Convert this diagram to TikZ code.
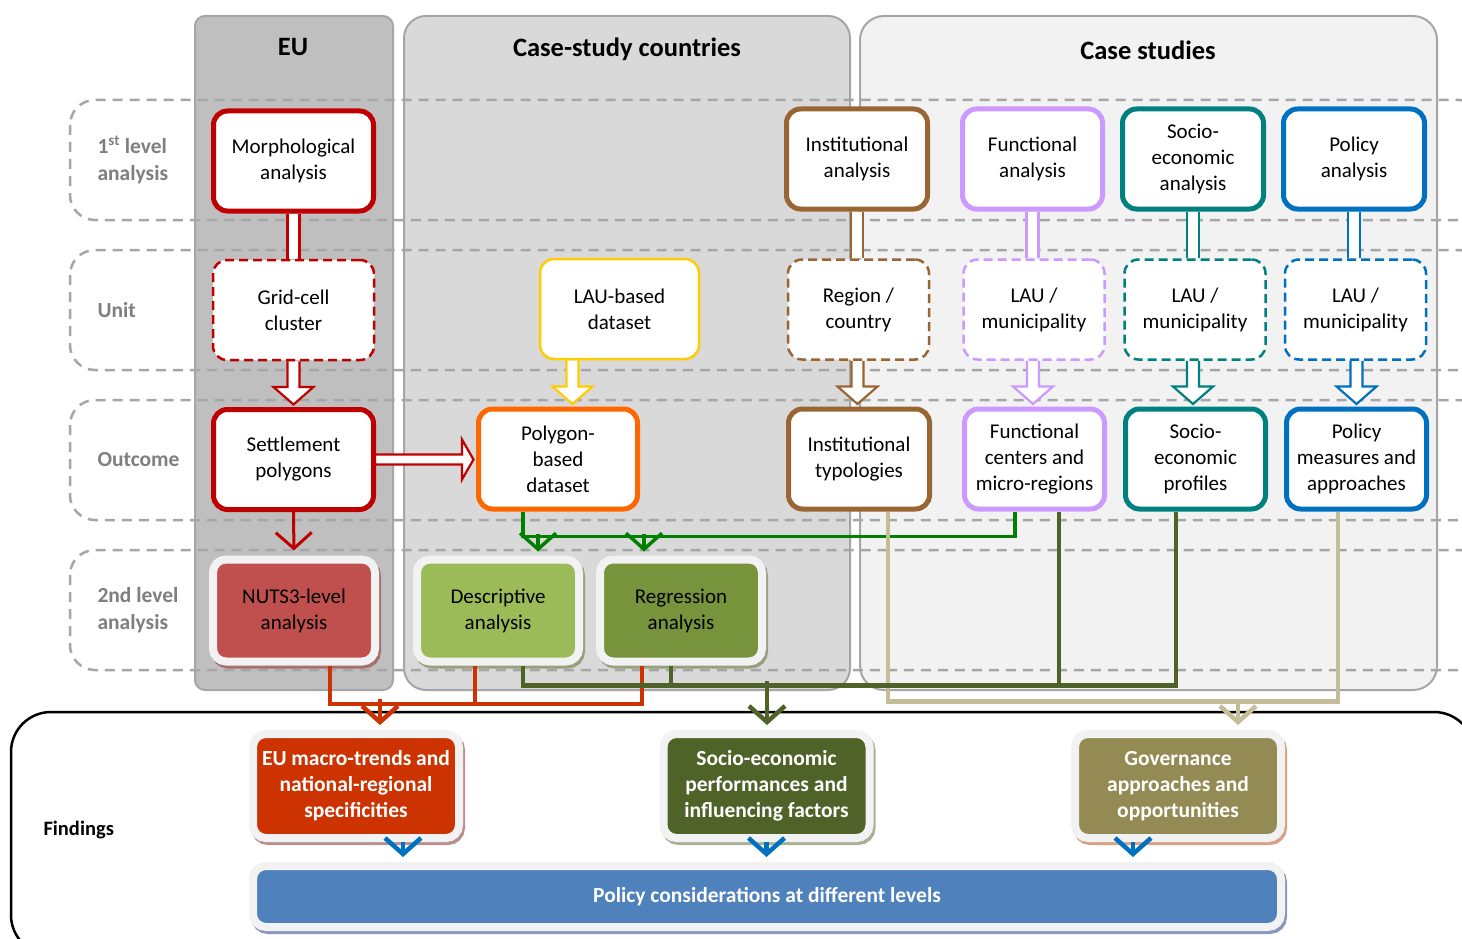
\documentclass[tikz,border=0pt]{standalone}
\usepackage{fontspec}
\setmainfont{Carlito}
\usetikzlibrary{arrows.meta,calc}
\pgfdeclarelayer{bg}
\pgfdeclarelayer{lines}
\pgfsetlayers{bg,lines,main}
\definecolor{cred}{HTML}{C00000}
\definecolor{corange}{HTML}{FF6600}
\definecolor{cyellow}{HTML}{FFCC00}
\definecolor{cbrown}{HTML}{996633}
\definecolor{cviolet}{HTML}{CC99FF}
\definecolor{cteal}{HTML}{008080}
\definecolor{cblue}{HTML}{0070C0}
\definecolor{fnuts}{HTML}{C0504D}
\definecolor{fdesc}{HTML}{9BBB59}
\definecolor{fregr}{HTML}{77933C}
\definecolor{feu}{HTML}{CC3300}
\definecolor{fsoc}{HTML}{4F6228}
\definecolor{fgov}{HTML}{948A54}
\definecolor{fpol}{HTML}{4F81BD}
\definecolor{lgreen}{HTML}{008000}
\definecolor{lkhaki}{HTML}{C4BD97}
\definecolor{peu}{HTML}{BFBFBF}
\definecolor{pcsc}{HTML}{D9D9D9}
\definecolor{pcs}{HTML}{F2F2F2}
\definecolor{pborder}{HTML}{A6A6A6}
\definecolor{ringc}{HTML}{F2F2F2}
\definecolor{lblgray}{HTML}{7F7F7F}
\definecolor{shnuts}{HTML}{A67070}
\definecolor{shgreen}{HTML}{98A080}
\definecolor{sheu}{HTML}{B89090}
\definecolor{shsoc}{HTML}{A8B098}
\definecolor{shgov}{HTML}{D8A282}
\definecolor{shpol}{HTML}{8898B8}

\newcommand{\hollowbar}[3]{%
  \fill[white] let \p1=(#2.south), \p2=(#3.north) in (\x1-6pt,\y1) rectangle (\x1+6pt,\y2);
  \draw[#1, line width=2.2pt] let \p1=(#2.south), \p2=(#3.north) in
    (\x1-6pt,\y1) -- (\x1-6pt,\y2) (\x1+6pt,\y1) -- (\x1+6pt,\y2);}
\newcommand{\hollowdown}[4]{%
  \filldraw[#1, fill=white, line width=2.2pt] let \p1=([xshift=#4]#2.south), \p2=(#3.north) in
    (\x1-6pt,\y1) -- (\x1-6pt,\y2+20pt) -- (\x1-20pt,\y2+20pt) -- (\x1,\y2+2.5pt)
    -- (\x1+20pt,\y2+20pt) -- (\x1+6pt,\y2+20pt) -- (\x1+6pt,\y1);}
\newcommand{\hollowright}[3]{%
  \filldraw[#1, fill=white, line width=2.2pt] let \p1=(#2.east), \p2=(#3.west) in
    (\x1,\y1+5pt) -- (\x2-14pt,\y1+5pt) -- (\x2-14pt,\y1+20pt) -- (\x2-2.5pt,\y1)
    -- (\x2-14pt,\y1-20pt) -- (\x2-14pt,\y1-5pt) -- (\x1,\y1-5pt);}

\begin{document}
\begin{tikzpicture}[x=1pt,y=-1pt,
  panel/.style={draw=pborder, line width=2pt},
  band/.style={draw=pborder, line width=2.5pt, dash pattern=on 10pt off 7pt, rounded corners=25pt},
  ttl/.style={font=\bfseries\fontsize{26.5}{30}\selectfont},
  rowlbl/.style={anchor=west, align=left, text=lblgray, font=\bfseries\fontsize{21.5}{27}\selectfont},
  box/.style={draw=#1, line width=5pt, fill=white, rounded corners=14pt, align=center,
    font=\fontsize{21}{26}\selectfont, inner sep=1pt, minimum height=100pt},
  dbox/.style={box=#1, line width=2.5pt, dash pattern=on 9pt off 5pt},
  fbox/.style n args={2}{fill=#1, draw=ringc, line width=8pt, rounded corners=13pt, align=center,
    font=\fontsize{21}{26}\selectfont, inner sep=1pt, minimum width=162pt, minimum height=102pt,
    preaction={draw=#2, fill=#2, transform canvas={shift={(2pt,-3pt)}}}},
  gbox/.style n args={2}{fbox={#1}{#2}, text=white, font=\bfseries\fontsize{21.5}{26}\selectfont,
    minimum width=206pt, minimum height=104pt},
  tip/.style={-{Straight Barb[length=16pt,width=36pt]}},
  redl/.style={draw=feu, line width=4.5pt},
  olvl/.style={draw=fsoc, line width=4.5pt},
  khkl/.style={draw=lkhaki, line width=4.5pt},
  grnl/.style={draw=lgreen, line width=3.5pt},
  blul/.style={draw=cblue, line width=4.5pt},
]
\useasboundingbox (0,0) rectangle (1462,939);

\begin{pgfonlayer}{bg}
  \fill[white] (0,0) rectangle (1462,939);
  \draw[panel, fill=peu, rounded corners=10pt] (195,16) rectangle (393,690);
  \draw[panel, fill=pcsc, rounded corners=22pt] (404,16) rectangle (850,690);
  \draw[panel, fill=pcs, rounded corners=24pt] (860,16) rectangle (1437,690);
  \foreach \t in {100,250,400,550} \draw[band] (70,\t) rectangle (1484,\t+120);
  \draw[line width=2.5pt, rounded corners=40pt] (11,712) rectangle (1474,955);
\end{pgfonlayer}

% titles
\node[ttl] (teu) at (293,47) {EU};
\node[ttl] (tcsc) at (627,49) {Case-study countries};
\node[ttl] (tcs) at (1148,50) {Case studies};

% row labels
\node[rowlbl] (r1) at (94,160) {1\textsuperscript{st} level\\analysis};
\node[rowlbl] (r2) at (94,310) {Unit};
\node[rowlbl] (r3) at (94,460) {Outcome};
\node[rowlbl] (r4) at (94,610) {2nd level\\analysis};
\node[anchor=west, font=\bfseries\fontsize{20.5}{26}\selectfont] (fnd) at (40,830) {Findings};

% row 1
\node[box=cred, minimum width=160pt] (morph) at (293.5,161) {Morphological\\analysis};
\node[box=cbrown, minimum width=141pt] (inst) at (857,159) {Institutional\\analysis};
\node[box=cviolet, minimum width=140pt] (func) at (1032.5,159) {Functional\\analysis};
\node[box=cteal, minimum width=141pt] (socio) at (1193,159) {Socio-\\economic\\analysis};
\node[box=cblue, minimum width=141pt] (policy) at (1354,159) {Policy\\analysis};

% row 2
\node[dbox=cred, minimum width=161pt] (grid) at (293.5,310) {Grid-cell\\cluster};
\node[box=cyellow, line width=2.5pt, minimum width=159pt] (laub) at (619.5,309) {LAU-based\\dataset};
\node[dbox=cbrown, minimum width=141pt] (region) at (858.5,309.5) {Region /\\country};
\node[dbox=cviolet, minimum width=141pt] (lau1) at (1034,309.5) {LAU /\\municipality};
\node[dbox=cteal, minimum width=141pt] (lau2) at (1195,309.5) {LAU /\\municipality};
\node[dbox=cblue, minimum width=141pt] (lau3) at (1355.5,309.5) {LAU /\\municipality};

% row 3
\node[box=cred, minimum width=160pt] (settle) at (293.5,459.5) {Settlement\\polygons};
\node[box=corange, minimum width=159pt] (polyb) at (558,459) {Polygon-\\based\\dataset};
\node[box=cbrown, minimum width=141pt] (insttyp) at (859,459) {Institutional\\typologies};
\node[box=cviolet, minimum width=140pt] (funcc) at (1034.5,459) {Functional\\centers and\\micro-regions};
\node[box=cteal, minimum width=140pt] (socprof) at (1195.5,459) {Socio-\\economic\\profiles};
\node[box=cblue, minimum width=140pt] (polmeas) at (1356.5,459) {Policy\\measures and\\approaches};

% row 4
\node[fbox={fnuts}{shnuts}] (nuts) at (294,610.5) {NUTS3-level\\analysis};
\node[fbox={fdesc}{shgreen}] (desc) at (498,610.5) {Descriptive\\analysis};
\node[fbox={fregr}{shgreen}] (regr) at (681,610.5) {Regression\\analysis};

% findings
\node[gbox={feu}{sheu}] (eumacro) at (356,786) {EU macro-trends and\\national-regional\\specificities};
\node[gbox={fsoc}{shsoc}] (socperf) at (766.5,786) {Socio-economic\\performances and\\influencing factors};
\node[gbox={fgov}{shgov}] (gov) at (1178,786) {Governance\\approaches and\\opportunities};
\node[gbox={fpol}{shpol}, minimum width=1028pt, minimum height=61pt] (polcons) at (767,896.5) {Policy considerations at different levels};

\begin{pgfonlayer}{lines}
  % hollow connectors
  \hollowbar{cred}{morph}{grid}
  \hollowbar{cbrown}{inst}{region}
  \hollowbar{cviolet}{func}{lau1}
  \hollowbar{cteal}{socio}{lau2}
  \hollowbar{cblue}{policy}{lau3}
  \hollowdown{cred}{grid}{settle}{0pt}
  \hollowdown{cyellow}{laub}{polyb}{-47pt}
  \hollowdown{cbrown}{region}{insttyp}{-1pt}
  \hollowdown{cviolet}{lau1}{funcc}{-1pt}
  \hollowdown{cteal}{lau2}{socprof}{-2pt}
  \hollowdown{cblue}{lau3}{polmeas}{1pt}
  \hollowright{cred}{settle}{polyb}

  % settlement -> nuts
  \draw[draw=cred, line width=3pt, tip, shorten >=5pt] (settle.south) -- (nuts.north);

  % green
  \draw[grnl] ([xshift=-35pt]polyb.south) -- ++(0,25) -| ([xshift=-19.5pt]funcc.south);
  \coordinate (g1) at (538,534);
  \coordinate (g2) at (644,534);
  \draw[grnl, tip, shorten >=4pt] (g1) -- (g1 |- desc.north);
  \draw[grnl, tip, shorten >=4pt] (g2) -- (g2 |- regr.north);

  % lines from row 3
  \draw[olvl] ([xshift=24.5pt]funcc.south) -- ++(0,172);
  \draw[khkl] ([xshift=29pt]insttyp.south) -- ++(0,190) -| ([xshift=-18.5pt]polmeas.south);
  \coordinate (kj) at (1238,699);
  \draw[khkl, tip, shorten >=5pt] (kj) -- (kj |- gov.north);
\end{pgfonlayer}

% red findings
\draw[redl] ([xshift=36pt]nuts.south) -- ++(0,38.5) -| ([xshift=-39pt]regr.south);
\draw[redl] ([xshift=-23pt]desc.south) -- ++(0,38.5);
\coordinate (rj) at (380,699);
\draw[redl, tip, shorten >=5pt] (rj) -- (rj |- eumacro.north);

% olive findings
\draw[olvl] ([xshift=25pt]desc.south) -- ++(0,20) -| ([xshift=-19.5pt]socprof.south);
\draw[olvl] ([xshift=-10pt]regr.south) -- ++(0,20);
\coordinate (oj) at (767,681);
\draw[olvl, tip, shorten >=5pt] (oj) -- (oj |- socperf.north);

% blue to policy considerations
\coordinate (b1) at ([xshift=47pt]eumacro.south);
\coordinate (b2) at ([xshift=0pt]socperf.south);
\coordinate (b3) at ([xshift=-45pt]gov.south);
\draw[blul, tip, shorten >=5pt] (b1) -- (b1 |- polcons.north);
\draw[blul, tip, shorten >=5pt] (b2) -- (b2 |- polcons.north);
\draw[blul, tip, shorten >=5pt] (b3) -- (b3 |- polcons.north);
\end{tikzpicture}
\end{document}
